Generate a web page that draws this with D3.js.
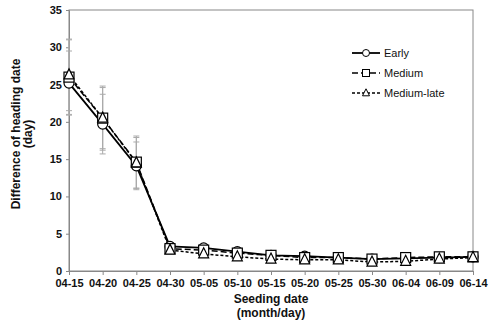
<!DOCTYPE html>
<html><head><meta charset="utf-8">
<script src="https://cdn.jsdelivr.net/npm/d3@7/dist/d3.min.js"></script>
<style>body{margin:0;background:#fff;font-family:"Liberation Sans",Arial,sans-serif;}</style>
</head><body><svg id="c" width="493" height="324"></svg>
<script>
const categories = ["04-15","04-20","04-25","04-30","05-05","05-10","05-15","05-20","05-25","05-30","06-04","06-09","06-14"];
const early = [25.2,19.7,14.1,3.3,3.1,2.6,2.1,2.0,1.8,1.6,1.7,1.8,1.9];
const medium = [26.0,20.5,14.6,3.0,2.8,2.4,2.1,1.8,1.8,1.6,1.8,1.9,1.9];
const mediumLate = [26.3,20.5,14.5,2.8,2.3,1.9,1.6,1.5,1.5,1.2,1.3,1.6,1.8];
const earlyErr = [4.3,4.0,3.2,0.3,0.3,0.3,0.2,0.2,0.2,0.2,0.2,0.2,0.2];
const mediumErr = [5.0,4.3,3.5,0.3,0.3,0.3,0.2,0.2,0.2,0.2,0.2,0.2,0.2];
const mediumLateErr = [4.8,4.1,3.4,0.3,0.3,0.3,0.2,0.2,0.2,0.2,0.2,0.2,0.2];
const yTicks = [0,5,10,15,20,25,30,35];
const seriesNames = ["Early","Medium","Medium-late"];

const series = [
  {name:seriesNames[0], values:early, err:earlyErr, dash:null, width:1.8, marker:"circle"},
  {name:seriesNames[1], values:medium, err:mediumErr, dash:"6,3", width:1.5, marker:"square"},
  {name:seriesNames[2], values:mediumLate, err:mediumLateErr, dash:"3,2", width:1.5, marker:"triangle"}
];

const svg = d3.select("#c");
const m = {l:69, r:473, t:10, b:271};
const x = d3.scalePoint().domain(categories).range([m.l, m.r]);
const y = d3.scaleLinear().domain([0,35]).range([m.b, m.t]);

svg.append("rect").attr("x",m.l).attr("y",m.t).attr("width",m.r-m.l).attr("height",m.b-m.t)
  .attr("fill","none").attr("stroke","#888").attr("stroke-width",1);

const xa = svg.append("g").attr("transform",`translate(0,${m.b})`)
  .call(d3.axisBottom(x).tickSize(4).tickPadding(4));
const ya = svg.append("g").attr("transform",`translate(${m.l},0)`)
  .call(d3.axisLeft(y).tickValues(yTicks).tickSize(3).tickPadding(4));
[xa,ya].forEach(a=>{
  a.selectAll("path,line").attr("stroke","#888");
  a.selectAll("text").attr("font-family","Liberation Sans, Arial, sans-serif")
   .attr("font-size",11).attr("font-weight","bold").attr("fill","#111");
});

series.forEach(s=>{
  const g = svg.append("g").attr("stroke","#aaa").attr("stroke-width",1);
  s.values.forEach((v,i)=>{
    const cx = x(categories[i]);
    const y1 = y(v + s.err[i]), y2 = y(v - s.err[i]);
    g.append("line").attr("x1",cx).attr("x2",cx).attr("y1",y1).attr("y2",y2);
    g.append("line").attr("x1",cx-3).attr("x2",cx+3).attr("y1",y1).attr("y2",y1);
    g.append("line").attr("x1",cx-3).attr("x2",cx+3).attr("y1",y2).attr("y2",y2);
  });
});

const line = d3.line().x((d,i)=>x(categories[i])).y(d=>y(d));
series.forEach(s=>{
  svg.append("path").datum(s.values).attr("d",line).attr("fill","none")
    .attr("stroke","#000").attr("stroke-width",s.width)
    .attr("stroke-dasharray",s.dash);
});

function drawMarker(g, type, cx, cy, scale){
  scale = scale||1;
  if(type==="circle") g.append("circle").attr("cx",cx).attr("cy",cy).attr("r",5*scale);
  else if(type==="square") g.append("rect").attr("x",cx-5*scale).attr("y",cy-5*scale).attr("width",10*scale).attr("height",10*scale);
  else g.append("path").attr("d",`M${cx},${cy-6*scale}L${cx+5*scale},${cy+4*scale}L${cx-5*scale},${cy+4*scale}Z`);
}
series.forEach(s=>{
  const g = svg.append("g").attr("fill","#fff").attr("stroke","#000").attr("stroke-width",1.2);
  s.values.forEach((v,i)=>drawMarker(g, s.marker, x(categories[i]), y(v)));
});

const lg = svg.append("g");
series.forEach((s,i)=>{
  const ly = 53 + i*20;
  lg.append("line").attr("x1",352).attr("x2",380).attr("y1",ly).attr("y2",ly)
    .attr("stroke","#000").attr("stroke-width",s.width).attr("stroke-dasharray",s.dash);
  const g = lg.append("g").attr("fill","#fff").attr("stroke","#000").attr("stroke-width",1);
  drawMarker(g, s.marker, 366, ly, 0.7);
  lg.append("text").attr("x",384).attr("y",ly+4).attr("font-size",11).attr("fill","#111")
    .text(s.name);
});

const yt = svg.append("text").attr("transform","translate(20,134) rotate(-90)")
  .attr("text-anchor","middle").attr("font-size",12).attr("font-weight","bold").attr("fill","#111");
yt.append("tspan").attr("x",0).attr("dy",0).text("Difference of heading date");
yt.append("tspan").attr("x",0).attr("dy",12).text("(day)");
const xt = svg.append("text").attr("text-anchor","middle").attr("font-size",12)
  .attr("font-weight","bold").attr("fill","#111");
xt.append("tspan").attr("x",271).attr("y",303).text("Seeding date");
xt.append("tspan").attr("x",271).attr("y",317).text("(month/day)");
</script></body></html>
